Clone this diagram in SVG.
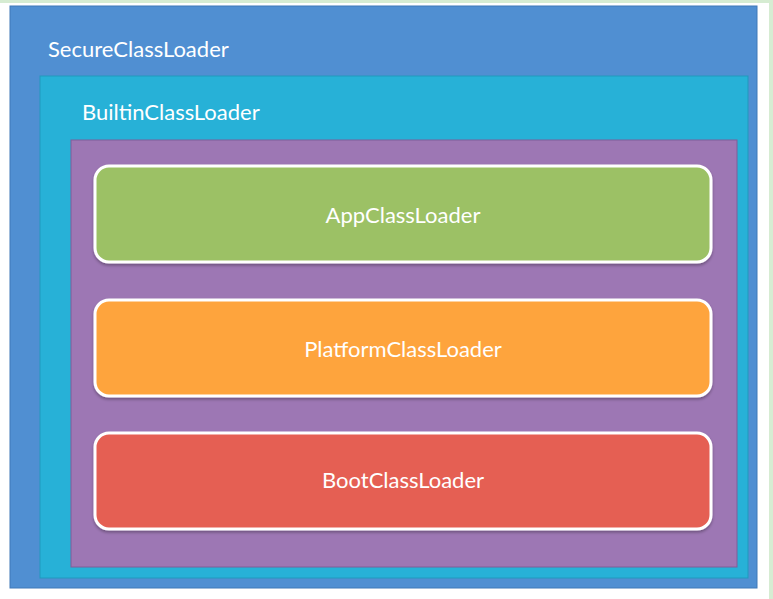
<svg xmlns="http://www.w3.org/2000/svg" width="773" height="599" viewBox="0 0 773 599">
<defs>
<style>
.lbl{font-family:Lato,"Open Sans","Liberation Sans",sans-serif;font-size:22px;fill:#ffffff}
.c{text-anchor:middle}
.box{stroke:#ffffff;stroke-width:3}
</style>
<filter id="sh" x="-5%" y="-10%" width="110%" height="125%">
<feDropShadow dx="0" dy="2" stdDeviation="1.5" flood-color="#000" flood-opacity="0.3"/>
</filter>
</defs>
<rect x="0" y="0" width="773" height="599" fill="#ffffff"/>
<rect x="0" y="0" width="773" height="3" fill="#d6ecd2"/>
<rect x="769" y="0" width="4" height="599" fill="#d6ecd2"/>
<g id="secure">
<rect x="10" y="6" width="747" height="582" fill="#508fd2" stroke="#3f78b8" stroke-width="1"/>
<text class="lbl" x="48" y="57">SecureClassLoader</text>
</g>
<g id="builtin">
<rect x="40" y="76" width="708" height="502" fill="#27b1d7" stroke="#2199bd" stroke-width="1"/>
<text class="lbl" x="82" y="120">BuiltinClassLoader</text>
</g>
<g id="inner">
<rect x="71" y="140" width="666" height="427" fill="#9d77b4" stroke="#7f5e99" stroke-width="1"/>
</g>
<g id="app">
<rect class="box" x="95" y="166" width="616" height="96" rx="14" fill="#9cc165" filter="url(#sh)"/>
<text class="lbl c" x="403" y="223">AppClassLoader</text>
</g>
<g id="platform">
<rect class="box" x="95" y="300" width="616" height="96" rx="14" fill="#fea43e" filter="url(#sh)"/>
<text class="lbl c" x="403" y="357">PlatformClassLoader</text>
</g>
<g id="boot">
<rect class="box" x="95" y="433" width="616" height="96" rx="14" fill="#e55f52" filter="url(#sh)"/>
<text class="lbl c" x="403" y="488">BootClassLoader</text>
</g>
<g id="connectors"/>
</svg>
